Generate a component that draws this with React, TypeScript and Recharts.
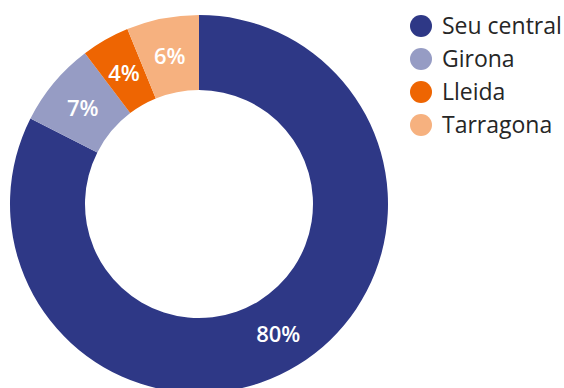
import React from "react";
import { Cell, Legend, Pie, PieChart } from "recharts";

const REGIONS = ["Seu central", "Girona", "Lleida", "Tarragona"];
const SHARES = [80, 7, 4, 6];
const COLORS = ["#2E3886", "#969CC4", "#EE6502", "#F6B17F"];

const data = REGIONS.map((name, i) => ({ name, value: SHARES[i] }));

const RAD = Math.PI / 180;

function renderLabel(props: any) {
  const { cx, cy, midAngle, innerRadius, outerRadius, value } = props;
  const r = (innerRadius + outerRadius) / 2;
  const x = cx + r * Math.cos(-midAngle * RAD);
  const y = cy + r * Math.sin(-midAngle * RAD);
  return (
    <text
      x={x}
      y={y}
      fill="#fff"
      fontSize={22}
      fontWeight={600}
      textAnchor="middle"
      dominantBaseline="central"
    >
      {`${value}%`}
    </text>
  );
}

function renderLegend() {
  return (
    <div style={{ fontFamily: "'Open Sans', sans-serif" }}>
      {REGIONS.map((name, i) => (
        <div
          key={name}
          style={{ display: "flex", alignItems: "center", height: 33 }}
        >
          <span
            style={{
              width: 22,
              height: 22,
              borderRadius: "50%",
              background: COLORS[i],
              marginRight: 10,
              flexShrink: 0,
            }}
          />
          <span
            style={{
              fontSize: 23,
              lineHeight: "33px",
              color: "#262626",
              whiteSpace: "nowrap",
            }}
          >
            {name}
          </span>
        </div>
      ))}
    </div>
  );
}

export default function App() {
  return (
    <div
      style={{
        position: "absolute",
        left: 0,
        top: 0,
        width: 564,
        height: 388,
        background: "#fff",
        fontFamily: "'Open Sans', sans-serif",
      }}
    >
      <PieChart
        width={564}
        height={388}
        margin={{ top: 0, right: 0, bottom: 0, left: 0 }}
      >
        <Pie
          data={data}
          dataKey="value"
          cx={199}
          cy={204}
          innerRadius={114}
          outerRadius={189}
          startAngle={90}
          endAngle={-270}
          stroke="none"
          labelLine={false}
          label={renderLabel}
          isAnimationActive={false}
        >
          {data.map((entry, i) => (
            <Cell key={entry.name} fill={COLORS[i]} />
          ))}
        </Pie>
        <Legend
          content={renderLegend}
          wrapperStyle={{ position: "absolute", left: 410, top: 9, width: 160 }}
        />
      </PieChart>
    </div>
  );
}
